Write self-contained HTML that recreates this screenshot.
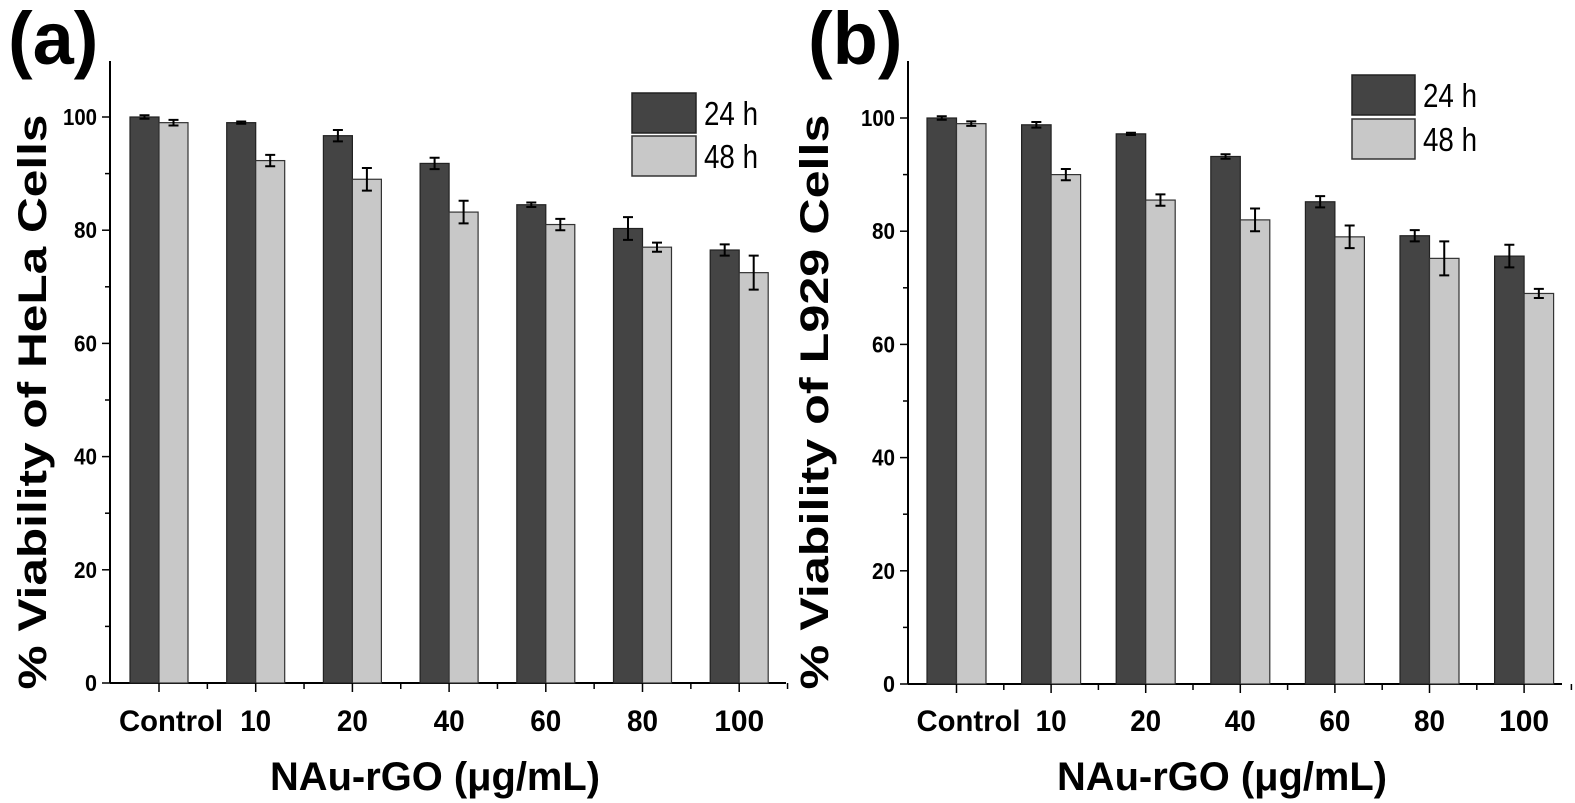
<!DOCTYPE html>
<html><head><meta charset="utf-8"><style>
html,body{margin:0;padding:0;background:#fff;}
svg{display:block;}
text{font-family:"Liberation Sans",sans-serif;font-weight:bold;fill:#000;}
</style></head><body>
<svg id="s" width="1575" height="803" xmlns="http://www.w3.org/2000/svg"></svg>
<script>
const S=document.getElementById('s');let h='';
function panel(o){
  const {ax,y0,top,x0,sp,bw,right,d24,d48,title,lab,labx,leg}=o;
  const k=5.66, Y=v=>y0-v*k;
  h+=`<line x1="${ax}" y1="${top}" x2="${ax}" y2="${y0}" stroke="#000" stroke-width="2"/>`;
  h+=`<line x1="${ax}" y1="${y0}" x2="${right}" y2="${y0}" stroke="#000" stroke-width="2"/>`;
  for(let v=0;v<=100;v+=10){const y=Y(v);const L=v%20==0?8:5;
    h+=`<line x1="${ax-L}" y1="${y}" x2="${ax}" y2="${y}" stroke="#000" stroke-width="1.5"/>`;
    if(v%20==0){const w=v==100?34:(v==0?12:23);
      h+=`<text x="${ax-13-w}" y="${y+8}" font-size="23" textLength="${w}" lengthAdjust="spacingAndGlyphs">${v}</text>`;}}
  const labs=['Control','10','20','40','60','80','100'];
  const lw=[104,31,31,31,31,31,50];
  for(let i=0;i<7;i++){const x=x0+i*sp;const c=x+bw;
    h+=`<rect x="${x}" y="${Y(d24[i][0])}" width="${bw}" height="${d24[i][0]*k}" fill="#444" stroke="#222" stroke-width="1.2"/>`;
    h+=`<rect x="${x+bw}" y="${Y(d48[i][0])}" width="${bw}" height="${d48[i][0]*k}" fill="#c8c8c8" stroke="#333" stroke-width="1.2"/>`;
    [[x+bw/2,d24[i]],[x+bw*1.5,d48[i]]].forEach(([cx,[v,e]])=>{const a=Y(v+e),b=Y(v-e);
      h+=`<path d="M${cx} ${a}V${b}M${cx-5} ${a}H${cx+5}M${cx-5} ${b}H${cx+5}" stroke="#000" stroke-width="2" fill="none"/>`;});
    h+=`<line x1="${c}" y1="${y0}" x2="${c}" y2="${y0+9}" stroke="#000" stroke-width="1.5"/>`;
    h+=`<line x1="${c+sp/2}" y1="${y0}" x2="${c+sp/2}" y2="${y0+6}" stroke="#000" stroke-width="1.5"/>`;
    const lx=i==0?c+12:c;
    h+=`<text x="${lx-lw[i]/2}" y="731" font-size="30" textLength="${lw[i]}" lengthAdjust="spacingAndGlyphs">${labs[i]}</text>`;
  }
  h+=`<text x="${o.tx-165}" y="790" font-size="40" textLength="330" lengthAdjust="spacingAndGlyphs">NAu-rGO (μg/mL)</text>`;
  h+=`<text x="0" y="0" font-size="40" text-anchor="middle" textLength="575" lengthAdjust="spacingAndGlyphs" transform="translate(${o.yx},${o.yc}) rotate(-90)">${title}</text>`;
  h+=`<text x="${labx}" y="64" font-size="74">${lab}</text>`;
  const [lx,ly,lw2,lh,gap]=leg;
  h+=`<rect x="${lx}" y="${ly}" width="${lw2}" height="${lh}" fill="#444" stroke="#222" stroke-width="1.5"/>`;
  h+=`<rect x="${lx}" y="${ly+lh+gap}" width="${lw2}" height="${lh}" fill="#c8c8c8" stroke="#333" stroke-width="1.5"/>`;
  h+=`<text x="${lx+lw2+8}" y="${ly+lh/2+12}" font-size="33" style="font-weight:normal" textLength="54" lengthAdjust="spacingAndGlyphs">24 h</text>`;
  h+=`<text x="${lx+lw2+8}" y="${ly+lh*1.5+gap+12}" font-size="33" style="font-weight:normal" textLength="54" lengthAdjust="spacingAndGlyphs">48 h</text>`;
}
panel({ax:110,y0:683,top:61,x0:130,sp:96.7,bw:29,right:786,
 d24:[[100,0.3],[99,0.2],[96.7,1],[91.8,1],[84.5,0.4],[80.3,2],[76.5,1]],
 d48:[[99,0.5],[92.3,1],[89,2],[83.2,2],[81,1],[77,0.8],[72.5,3]],
 title:'% Viability of HeLa Cells',lab:'(a)',labx:8,tx:435,yx:46,yc:402,leg:[632,93,64,40,3]});
panel({ax:908,y0:684,top:61,x0:927,sp:94.6,bw:29.5,right:1562,
 d24:[[100,0.3],[98.8,0.5],[97.2,0.2],[93.2,0.4],[85.2,1],[79.2,1],[75.6,2]],
 d48:[[99,0.4],[90,1],[85.5,1],[82,2],[79,2],[75.2,3],[69,0.8]],
 title:'% Viability of L929 Cells',lab:'(b)',labx:808,tx:1222,yx:828,yc:402,leg:[1352,75,63,40,4]});
S.innerHTML=h;
</script>
</body></html>
